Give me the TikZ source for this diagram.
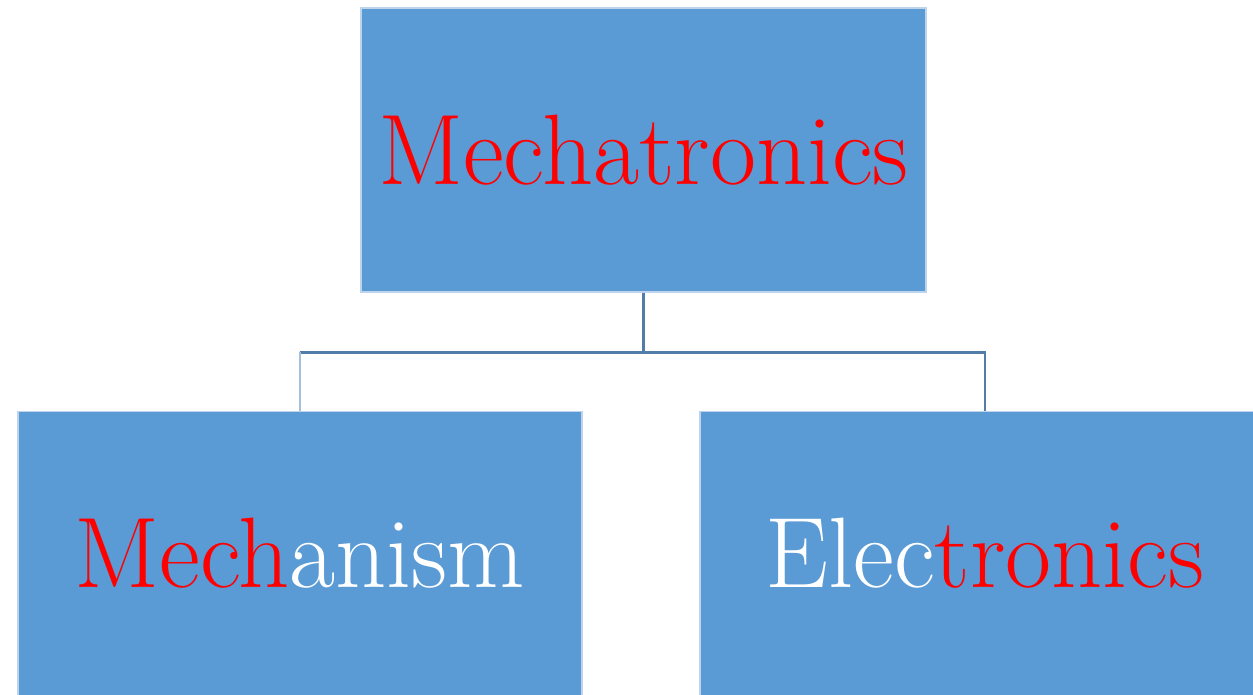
\documentclass[tikz,border=0pt]{standalone}
\usepackage{tikz}
\usetikzlibrary{positioning, calc}
\definecolor{boxblue}{RGB}{91,155,213}
\definecolor{boxedge}{RGB}{190,212,236}
\definecolor{linkdark}{RGB}{82,125,168}
\definecolor{linklight}{RGB}{165,192,218}
\tikzset{
  unit/.style={
    rectangle, fill=boxblue, draw=boxedge, line width=0.6pt,
    minimum height=5.68cm, text centered,
    font=\fontsize{57pt}{64pt}\selectfont
  },
  link/.style={line width=1.4pt, color=linkdark}
}

\begin{document}
\begin{tikzpicture}[node distance=2.36cm]

\useasboundingbox (0,0) rectangle (25.06,-13.88);

% Root
\node[unit, minimum width=11.3cm] (mecha) at (12.87,-3.0)
  {\textcolor{red}{Mechatronics}};

% Children
\node[unit, minimum width=11.28cm, below=of mecha, xshift=-6.87cm] (mech)
  {\textcolor{red}{Mech}\textcolor{white}{anism}};
\node[unit, minimum width=11.4cm, below=of mecha, xshift=6.83cm] (elec)
  {\textcolor{white}{Elec}\textcolor{red}{tronics}};

% Tree connectors
\coordinate (fork) at ($(mecha.south)+(0,-1.2)$);
\coordinate (drop) at ($(mech.north)+(0,1.17)$);
\draw[link] (mecha.south) -- (fork);
\draw[link] (fork) -| (elec.north);
\draw[link] (fork) -| (drop);
\draw[link, color=linklight] (drop) -- (mech.north);

\end{tikzpicture}
\end{document}
